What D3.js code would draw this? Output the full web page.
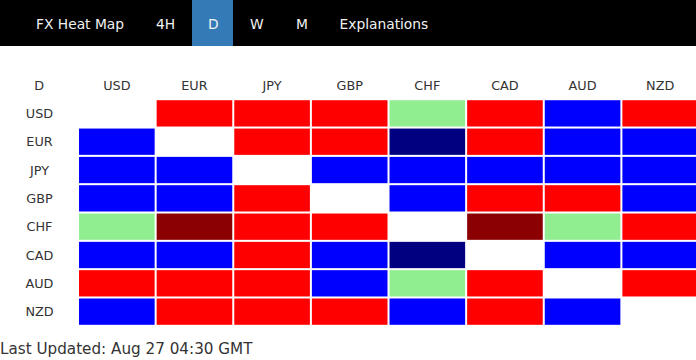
<!DOCTYPE html>
<html>
<head>
<meta charset="utf-8">
<script src="https://cdn.jsdelivr.net/npm/d3@7/dist/d3.min.js"></script>
<style>
  html, body { margin: 0; padding: 0; background: #fff; }
  svg { display: block; }
</style>
</head>
<body>
<svg id="chart" width="696" height="360"></svg>
<script>
// ---- data ----
const navItems = ["FX Heat Map", "4H", "D", "W", "M", "Explanations"];
const activeNav = "D";
const timeframe = "D";
const currencies = ["USD", "EUR", "JPY", "GBP", "CHF", "CAD", "AUD", "NZD"];
// level codes: -2 strong weak (dark red), -1 weak (red), 0 neutral (light green), 1 strong (blue), 2 very strong (navy), null = self
const usdRow = [null, -1, -1, -1, 0, -1, 1, -1];
const eurRow = [1, null, -1, -1, 2, -1, 1, 1];
const jpyRow = [1, 1, null, 1, 1, 1, 1, 1];
const gbpRow = [1, 1, -1, null, 1, -1, -1, 1];
const chfRow = [0, -2, -1, -1, null, -2, 0, -1];
const cadRow = [1, 1, -1, 1, 2, null, 1, 1];
const audRow = [-1, -1, -1, 1, 0, -1, null, -1];
const nzdRow = [1, -1, -1, -1, 1, -1, 1, null];
const levels = [-2, -1, 0, 1, 2];
const levelColors = ["#8b0000", "#ff0000", "#90ee90", "#0000ff", "#000080"];
const footerText = "Last Updated: Aug 27 04:30 GMT";

const matrix = [usdRow, eurRow, jpyRow, gbpRow, chfRow, cadRow, audRow, nzdRow];

const svg = d3.select("#chart");
const font = "'DejaVu Sans', Verdana, sans-serif";

// ---- nav bar ----
svg.append("rect").attr("x", 0).attr("y", 0).attr("width", 696).attr("height", 46).attr("fill", "#000");
const navX = [36, 156, 208, 250, 296, 339.5];
const navG = svg.append("g");
navItems.forEach((t, i) => {
  if (t === activeNav) {
    navG.append("rect").attr("x", 192).attr("y", 0).attr("width", 41).attr("height", 46).attr("fill", "#337ab7");
  }
  navG.append("text").attr("x", navX[i]).attr("y", 29)
    .attr("font-family", font).attr("font-size", 13.8).attr("fill", "#f2f2f2").text(t);
});

// ---- scales ----
const cols = [timeframe].concat(currencies);
const x = d3.scaleBand().domain(cols).range([1.4, 698]).paddingInner(2 / 77.4).paddingOuter(0);
const rows = ["__hdr"].concat(currencies);
const y = d3.scaleBand().domain(rows).range([71.9, 71.9 + 9 * 28.1]).paddingInner(2 / 28.1).paddingOuter(0);
const color = d3.scaleOrdinal().domain(levels).range(levelColors);

// ---- cells ----
const cells = [];
currencies.forEach((r, i) => currencies.forEach((c, j) => cells.push({ r, c, v: matrix[i][j] })));
svg.append("g").selectAll("rect").data(cells.filter(d => d.v !== null)).join("rect")
  .attr("x", d => x(d.c)).attr("y", d => y(d.r))
  .attr("width", x.bandwidth()).attr("height", y.bandwidth())
  .attr("fill", d => color(d.v));

// ---- labels ----
const lab = svg.append("g").attr("font-family", font).attr("font-size", 12.8).attr("fill", "#333").attr("text-anchor", "middle");
cols.forEach(c => {
  lab.append("text").attr("x", x(c) + x.bandwidth() / 2).attr("y", y("__hdr") + y.bandwidth() / 2).attr("dy", "0.36em").text(c);
});
currencies.forEach(r => {
  lab.append("text").attr("x", 39.5).attr("y", y(r) + y.bandwidth() / 2).attr("dy", "0.36em").text(r);
});

// ---- footer ----
svg.append("text").attr("x", 0).attr("y", 354).attr("font-family", font).attr("font-size", 15.2).attr("fill", "#333").text(footerText);
</script>
</body>
</html>
